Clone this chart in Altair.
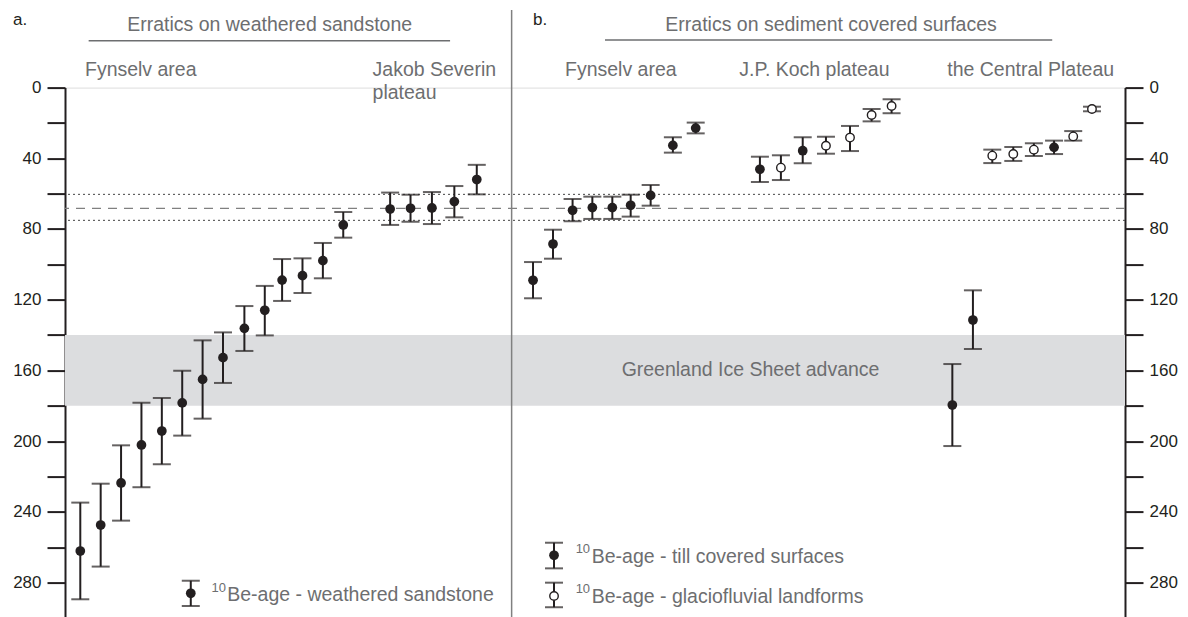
import altair as alt
import pandas as pd

INK = "#231f20"
GREY_TXT = "#6d6e70"
BAND = "#dcdddf"
FONT = "Liberation Sans"

# ---------------- data (slot position along the panel, 10Be age in ka) ----------------
# a. weathered sandstone - Fynselv area
a_fyn_x = [0.75, 1.75, 2.75, 3.75, 4.75, 5.75, 6.75, 7.75, 8.8, 9.8, 10.65, 11.65, 12.65, 13.65]
a_fyn_age = [262.2, 247.5, 223.7, 202.2, 194.3, 178.4, 165.1, 152.8, 136.2, 126.0, 108.9, 106.4, 97.9, 77.7]
a_fyn_lo = [234.8, 224.1, 202.4, 178.3, 175.6, 160.2, 143.0, 138.5, 123.6, 112.2, 97.0, 96.6, 87.9, 70.4]
a_fyn_hi = [289.5, 271.0, 245.0, 226.1, 213.1, 196.9, 187.3, 167.1, 149.0, 140.2, 120.7, 116.2, 107.9, 84.9]

# a. Jakob Severin plateau
a_js_x = [15.95, 16.95, 18.0, 19.1, 20.2]
a_js_age = [68.7, 68.3, 68.1, 64.5, 52.0]
a_js_lo = [59.4, 60.6, 59.1, 55.7, 43.7]
a_js_hi = [77.7, 75.9, 77.2, 73.4, 60.4]

# b. sediment covered - Fynselv area (till covered)
b_fyn_x = [22.96, 23.94, 24.9, 25.87, 26.85, 27.75, 28.73, 29.82, 30.94]
b_fyn_age = [109.0, 88.5, 69.4, 67.9, 67.9, 66.6, 61.0, 32.7, 22.9]
b_fyn_lo = [98.7, 80.4, 63.0, 61.7, 61.7, 60.6, 55.1, 28.1, 19.8]
b_fyn_hi = [119.2, 96.8, 75.6, 74.3, 74.3, 73.0, 66.8, 36.8, 25.9]
b_fyn_kind = ["till"] * 9

# b. J.P. Koch plateau
b_jpk_x = [34.09, 35.12, 36.19, 37.33, 38.51, 39.57, 40.55]
b_jpk_age = [46.2, 45.3, 35.7, 32.9, 28.3, 15.5, 10.4]
b_jpk_lo = [39.1, 38.3, 28.1, 27.8, 21.7, 12.1, 6.6]
b_jpk_hi = [53.4, 52.3, 42.8, 37.4, 35.9, 19.1, 14.5]
b_jpk_kind = ["till", "glacio", "till", "glacio", "glacio", "glacio", "glacio"]

# b. the Central Plateau
b_cp_x = [43.53, 44.54, 45.49, 46.52, 47.53, 48.52, 49.46, 50.38]
b_cp_age = [179.6, 131.5, 38.5, 37.6, 35.1, 33.8, 27.6, 12.1]
b_cp_lo = [156.4, 114.7, 35.1, 33.6, 31.5, 30.0, 24.6, 10.8]
b_cp_hi = [202.8, 147.9, 42.7, 41.5, 38.7, 37.6, 30.0, 13.4]
b_cp_kind = ["till", "till", "glacio", "glacio", "glacio", "till", "glacio", "glacio"]

# reference lines / band
band_from, band_to = [140], [180]
dotted_ages = [60.4, 75.1]
dashed_ages = [68.3]
y_ticks = list(range(0, 300, 20))

# legend entries
leg_x = [6.17, 23.99, 23.99]
leg_age = [286.1, 264.6, 287.6]
leg_lo = [279.0, 257.5, 280.1]
leg_hi = [293.3, 272.0, 294.0]
leg_kind = ["sand", "till", "glacio"]
leg_sup_x = [7.19, 25.05, 25.05]
leg_sup_y = [283.1, 261.0, 283.7]
leg_txt_x = [7.96, 25.84, 25.84]
leg_txt_y = [287.3, 265.7, 288.4]
leg_txt = ["Be-age - weathered sandstone", "Be-age - till covered surfaces", "Be-age - glaciofluvial landforms"]

# annotation text
panel_lbl = ["a.", "b."]
panel_lbl_x = [-2.55, 22.96]
panel_lbl_y = [-38.5, -38.0]
head_txt = ["Erratics on weathered sandstone", "Erratics on sediment covered surfaces"]
head_x = [10.04, 37.58]
head_y = [-35.4, -35.4]
rule_x0 = [1.16, 26.49]
rule_x1 = [18.89, 48.43]
rule_y = [-26.5, -26.9]
area_txt = ["Fynselv area", "Jakob Severin", "plateau", "Fynselv area", "J.P. Koch plateau", "the Central Plateau"]
area_x = [0.98, 15.09, 15.09, 24.53, 33.08, 43.28]
area_y = [-10.0, -10.0, 3.1, -10.0, -10.0, -10.0]
sep_x = [21.91]
sep_y0, sep_y1 = [-43.9], [300]
gis_txt = ["Greenland Ice Sheet advance"]
gis_x, gis_y = [33.63], [160]

# ---------------- tables ----------------
def pts(x, age, lo, hi, kind):
    return pd.DataFrame({"x": x, "age": age, "lo": lo, "hi": hi, "kind": kind})

df = pd.concat([
    pts(a_fyn_x, a_fyn_age, a_fyn_lo, a_fyn_hi, ["sand"] * len(a_fyn_x)),
    pts(a_js_x, a_js_age, a_js_lo, a_js_hi, ["sand"] * len(a_js_x)),
    pts(b_fyn_x, b_fyn_age, b_fyn_lo, b_fyn_hi, b_fyn_kind),
    pts(b_jpk_x, b_jpk_age, b_jpk_lo, b_jpk_hi, b_jpk_kind),
    pts(b_cp_x, b_cp_age, b_cp_lo, b_cp_hi, b_cp_kind),
    pts(leg_x, leg_age, leg_lo, leg_hi, leg_kind),
], ignore_index=True)

XS = alt.Scale(domain=[0, 52], nice=False, zero=False)
YS = alt.Scale(domain=[0, 300], reverse=True, nice=False, zero=False)


def X(f="x"):
    return alt.X(f"{f}:Q", scale=XS, axis=None)


def Y(f, axis=None):
    return alt.Y(f"{f}:Q", scale=YS, axis=axis, title=None)


def axis(orient):
    return alt.Axis(orient=orient, values=y_ticks,
                    labelExpr="datum.value % 40 == 0 ? datum.label : ''",
                    tickSize=18, tickWidth=2, domainWidth=2,
                    domainColor=INK, tickColor=INK, labelColor=INK,
                    labelFont=FONT, labelFontSize=17, labelPadding=6,
                    grid=False, title=None)


band = alt.Chart(pd.DataFrame({"y0": band_from, "y1": band_to})).mark_rect(color=BAND).encode(
    y=Y("y0", axis("left")), y2="y1:Q")

dotted = alt.Chart(pd.DataFrame({"r": dotted_ages})).mark_rule(
    color="#444444", strokeWidth=1, strokeDash=[2, 3]).encode(y=Y("r", axis("right")))
dashed = alt.Chart(pd.DataFrame({"r": dashed_ages})).mark_rule(
    color="#808080", strokeWidth=1.2, strokeDash=[9, 7]).encode(y=Y("r"))

sep = alt.Chart(pd.DataFrame({"x": sep_x, "y0": sep_y0, "y1": sep_y1})).mark_rule(
    color="#808080", strokeWidth=1.5).encode(x=X(), y=Y("y0"), y2="y1:Q")

gis = alt.Chart(pd.DataFrame({"x": gis_x, "y": gis_y, "t": gis_txt})).mark_text(
    font=FONT, fontSize=19.5, color=GREY_TXT, align="center", baseline="middle").encode(
    x=X(), y=Y("y"), text="t:N")

base = alt.Chart(df)
stems = base.mark_rule(color=INK, strokeWidth=2).encode(x=X(), y=Y("lo"), y2="hi:Q")
caps = base.transform_fold(["lo", "hi"], as_=["end", "v"]).mark_tick(
    orient="horizontal", size=18, thickness=2, color=INK).encode(x=X(), y=Y("v"))
filled = base.transform_filter("datum.kind != 'glacio'").mark_point(
    filled=True, shape="circle", size=95, color=INK, opacity=1).encode(x=X(), y=Y("age"))
hollow = base.transform_filter("datum.kind == 'glacio'").mark_point(
    filled=True, shape="circle", size=72, fill="white", stroke=INK, strokeWidth=1.4,
    opacity=1).encode(x=X(), y=Y("age"))

plbl = alt.Chart(pd.DataFrame({"x": panel_lbl_x, "y": panel_lbl_y, "t": panel_lbl})).mark_text(
    font=FONT, fontSize=17, color=INK, align="left", baseline="middle").encode(
    x=X(), y=Y("y"), text="t:N")
heads = alt.Chart(pd.DataFrame({"x": head_x, "y": head_y, "t": head_txt})).mark_text(
    font=FONT, fontSize=19.5, color=GREY_TXT, align="center", baseline="middle").encode(
    x=X(), y=Y("y"), text="t:N")
hrules = alt.Chart(pd.DataFrame({"x0": rule_x0, "x1": rule_x1, "y": rule_y})).mark_rule(
    color=GREY_TXT, strokeWidth=1.5).encode(x=X("x0"), x2="x1:Q", y=Y("y"))
areas = alt.Chart(pd.DataFrame({"x": area_x, "y": area_y, "t": area_txt})).mark_text(
    font=FONT, fontSize=19.5, color=GREY_TXT, align="left", baseline="middle").encode(
    x=X(), y=Y("y"), text="t:N")

sup = alt.Chart(pd.DataFrame({"x": leg_sup_x, "y": leg_sup_y, "t": ["10"] * 3})).mark_text(
    font=FONT, fontSize=13, color=GREY_TXT, align="left", baseline="middle").encode(
    x=X(), y=Y("y"), text="t:N")
legtxt = alt.Chart(pd.DataFrame({"x": leg_txt_x, "y": leg_txt_y, "t": leg_txt})).mark_text(
    font=FONT, fontSize=19.5, color=GREY_TXT, align="left", baseline="middle").encode(
    x=X(), y=Y("y"), text="t:N")

chart = alt.layer(
    band, dotted, dashed, sep, gis, stems, caps, filled, hollow,
    plbl, heads, hrules, areas, sup, legtxt,
).resolve_axis(y="independent").properties(
    width=1060, height=530.25,
    autosize=alt.AutoSizeParams(type="none"),
    padding={"left": 57, "top": 79.6, "right": 55, "bottom": 0},
).configure_view(stroke=None).configure(background="white")

chart.save("out.html", embed_options={"renderer": "svg", "actions": False})
